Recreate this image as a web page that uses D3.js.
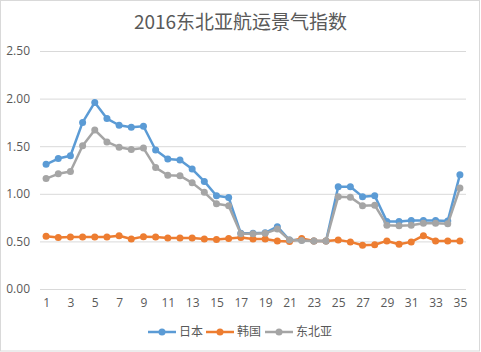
<!DOCTYPE html>
<html>
<head>
<meta charset="utf-8">
<script src="https://cdn.jsdelivr.net/npm/d3@7"></script>
<style>
  body { margin: 0; background: #fff; }
  text { font-family: "Open Sans", "Noto Sans CJK SC", sans-serif; fill: #595959; }
</style>
</head>
<body>
<div id="chart"></div>
<script>
/* 2016 东北亚航运景气指数 - line chart */

const periods = d3.range(1, 36);
const seriesNames = ["日本", "韩国", "东北亚"];
const japan = [1.31, 1.37, 1.40, 1.75, 1.96, 1.79, 1.72, 1.70, 1.71, 1.46, 1.365, 1.355, 1.26, 1.13, 0.98, 0.96, 0.585, 0.585, 0.59, 0.655, 0.515, 0.515, 0.505, 0.505, 1.075, 1.075, 0.97, 0.98, 0.71, 0.71, 0.72, 0.72, 0.72, 0.715, 1.20];
const korea = [0.555, 0.54, 0.545, 0.545, 0.545, 0.545, 0.56, 0.525, 0.55, 0.545, 0.535, 0.535, 0.535, 0.525, 0.52, 0.53, 0.54, 0.525, 0.525, 0.505, 0.50, 0.53, 0.505, 0.505, 0.515, 0.495, 0.46, 0.465, 0.505, 0.47, 0.495, 0.56, 0.505, 0.505, 0.505];
const northeastAsia = [1.16, 1.21, 1.235, 1.505, 1.67, 1.545, 1.49, 1.465, 1.48, 1.275, 1.195, 1.19, 1.115, 1.015, 0.895, 0.875, 0.58, 0.58, 0.585, 0.63, 0.515, 0.51, 0.505, 0.505, 0.97, 0.965, 0.875, 0.88, 0.67, 0.665, 0.67, 0.69, 0.69, 0.685, 1.06];
const yTicks = [0, 0.5, 1, 1.5, 2, 2.5];
const xTickLabels = periods.filter(d => d % 2 === 1);
const colors = ["#5B9BD5", "#ED7D31", "#A5A5A5"];

const height = 352,
    width = 481,
    margin = ({ top: 51, right: 15, bottom: 63, left: 40 });

const svg = d3.select("#chart")
    .append("svg")
    .attr("width", width)
    .attr("height", height);

// chart border
svg.append("rect")
    .attr("x", 0.5).attr("y", 0.5)
    .attr("width", width - 2).attr("height", height - 1.5)
    .attr("fill", "#fff")
    .attr("stroke", "#D9D9D9");

let x = d3.scalePoint()
    .domain(periods)
    .range([margin.left, width - margin.right])
    .padding(0.5);

let y = d3.scaleLinear()
    .domain([0, 2.5])
    .range([height - margin.bottom, margin.top]);

// gridlines + y labels
svg.append("g")
    .attr("transform", `translate(${margin.left},0)`)
    .call(d3.axisLeft(y).tickValues(yTicks)
        .tickFormat(d3.format(".2f"))
        .tickSize(-(width - margin.left - margin.right))
        .tickPadding(10))
    .call(g => g.select(".domain").remove())
    .call(g => g.selectAll(".tick line").attr("stroke", "#D9D9D9"))
    .call(g => g.selectAll(".tick text").attr("font-size", 12).attr("fill", "#595959"));

// x labels
svg.append("g")
    .attr("transform", `translate(0,${height - margin.bottom})`)
    .call(d3.axisBottom(x).tickValues(xTickLabels).tickSize(0).tickPadding(9))
    .call(g => g.select(".domain").remove())
    .call(g => g.selectAll(".tick text").attr("font-size", 12).attr("fill", "#595959"));

// title
svg.append("text")
    .attr("x", width / 2)
    .attr("y", 29)
    .attr("text-anchor", "middle")
    .attr("font-size", 19)
    .style("font-family", "'Noto Sans CJK SC', sans-serif")
    .text("2016东北亚航运景气指数");

let line = d3.line()
    .x((d, i) => x(periods[i]))
    .y(d => y(d));

const allSeries = [japan, korea, northeastAsia];

allSeries.forEach((vals, k) => {
    svg.append("path")
        .datum(vals)
        .attr("d", line)
        .attr("fill", "none")
        .attr("stroke", colors[k])
        .attr("stroke-width", 2.5)
        .attr("stroke-linejoin", "round");
    svg.append("g")
        .selectAll("circle")
        .data(vals)
        .join("circle")
        .attr("cx", (d, i) => x(periods[i]))
        .attr("cy", d => y(d))
        .attr("r", 3.5)
        .attr("fill", colors[k]);
});

// legend
const legendX = [148, 206, 265];
const legend = svg.append("g").attr("transform", "translate(0,332)");
seriesNames.forEach((name, k) => {
    const g = legend.append("g").attr("transform", `translate(${legendX[k]},0)`);
    g.append("line")
        .attr("x1", 0).attr("x2", 28)
        .attr("stroke", colors[k]).attr("stroke-width", 2.5);
    g.append("circle").attr("cx", 14).attr("r", 3.5).attr("fill", colors[k]);
    g.append("text")
        .attr("x", 31).attr("dy", "0.35em")
        .attr("font-size", 12)
        .style("font-family", "'Noto Sans CJK SC', sans-serif")
        .text(name);
});
</script>
</body>
</html>
